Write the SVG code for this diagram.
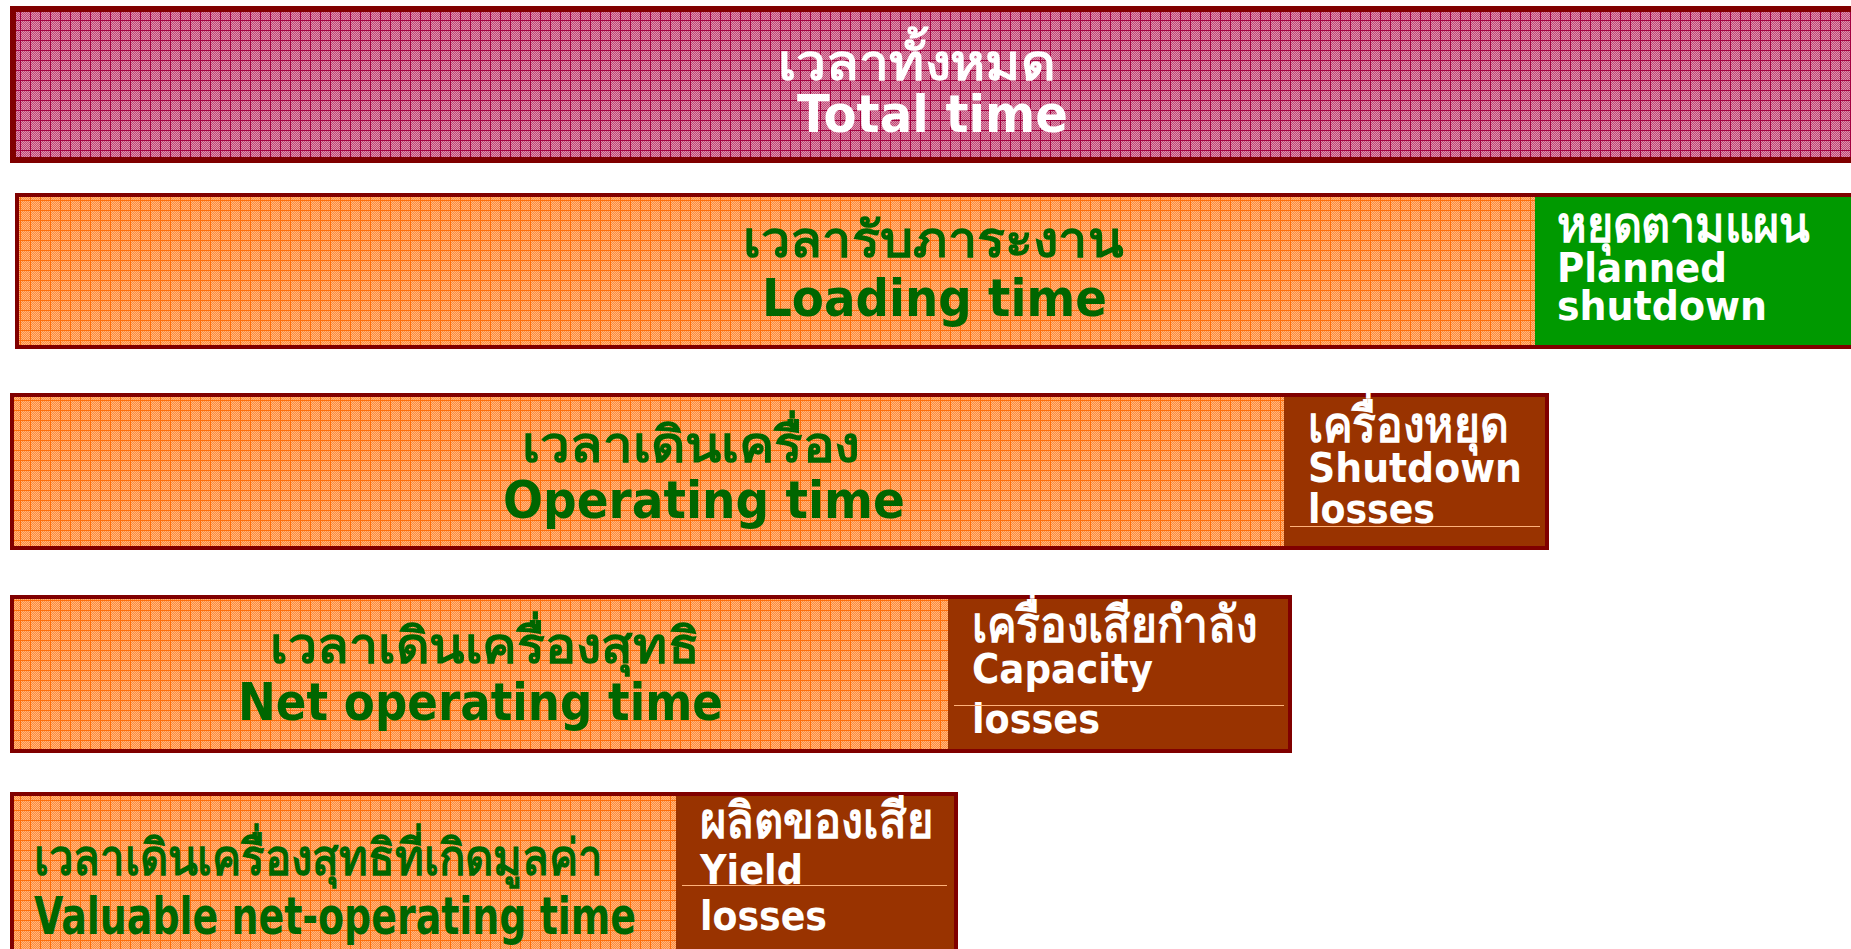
<svg xmlns="http://www.w3.org/2000/svg" width="1851" height="949" viewBox="0 0 1851 949">
<defs>
<pattern id="chkP" width="2" height="2" patternUnits="userSpaceOnUse"><rect width="2" height="2" fill="#C04A76"/><rect width="1" height="1" fill="#DE92B0"/><rect x="1" y="1" width="1" height="1" fill="#DE92B0"/></pattern>
<pattern id="gridP" width="10" height="10" patternUnits="userSpaceOnUse"><rect width="10" height="10" fill="url(#chkP)"/><rect width="10" height="1" fill="#A3003F"/><rect width="1" height="10" fill="#A3003F"/></pattern>
<pattern id="chkO" width="2" height="2" patternUnits="userSpaceOnUse"><rect width="2" height="2" fill="#FF8C3A"/><rect width="1" height="1" fill="#FFB680"/><rect x="1" y="1" width="1" height="1" fill="#FFB680"/></pattern>
<pattern id="gridO" width="10" height="10" patternUnits="userSpaceOnUse"><rect width="10" height="10" fill="url(#chkO)"/><rect width="10" height="1" fill="#FF6E0A"/><rect width="1" height="10" fill="#FF6E0A"/></pattern>
</defs>
<style>
.frame{stroke:#800000;}
.brown{fill:#993300;}
.t{font-family:"DejaVu Sans","Noto Sans",sans-serif;font-weight:bold;}
.g{fill:#006600;}
.w{fill:#FFFFFF;}
.big{font-size:52px;}
.th{font-size:50px;}
.sm{font-size:40px;}
.sep{stroke:#FFB27A;stroke-width:1;}
</style>
<rect width="1851" height="949" fill="#FFFFFF"/>

<g id="total">
<rect x="13" y="9" width="1850" height="151" fill="url(#gridP)" class="frame" stroke-width="6"/>
<text class="t w th" x="778" y="80" textLength="277" lengthAdjust="spacingAndGlyphs">เวลาทั้งหมด</text>
<text class="t w big" x="797" y="132" textLength="271" lengthAdjust="spacingAndGlyphs">Total time</text>
</g>

<g id="loading">
<rect x="17" y="195" width="1840" height="152" fill="url(#gridO)" class="frame" stroke-width="4"/>
<text class="t g th" x="743" y="257" textLength="380" lengthAdjust="spacingAndGlyphs">เวลารับภาระงาน</text>
<text class="t g big" x="762" y="316" textLength="345" lengthAdjust="spacingAndGlyphs">Loading time</text>
</g>

<g id="planned">
<rect x="1535" y="197" width="316" height="148" fill="#009900"/>
<text class="t w th" x="1557" y="242" textLength="253" lengthAdjust="spacingAndGlyphs">หยุดตามแผน</text>
<text class="t w sm" x="1557" y="282" textLength="170" lengthAdjust="spacingAndGlyphs">Planned</text>
<text class="t w sm" x="1557" y="320" textLength="210" lengthAdjust="spacingAndGlyphs">shutdown</text>
</g>

<g id="operating">
<rect x="12" y="395" width="1535" height="153" fill="url(#gridO)" class="frame" stroke-width="4"/>
<text class="t g th" x="522" y="462" textLength="338" lengthAdjust="spacingAndGlyphs">เวลาเดินเครื่อง</text>
<text class="t g big" x="503" y="518" textLength="402" lengthAdjust="spacingAndGlyphs">Operating time</text>
</g>

<g id="shutdown-losses">
<rect x="1284" y="397" width="261" height="149" class="brown"/>
<text class="t w th" x="1308" y="442" textLength="200" lengthAdjust="spacingAndGlyphs">เครื่องหยุด</text>
<text class="t w sm" x="1308" y="482" textLength="214" lengthAdjust="spacingAndGlyphs">Shutdown</text>
<text class="t w sm" x="1308" y="523" textLength="127" lengthAdjust="spacingAndGlyphs">losses</text>
<line x1="1290" y1="526.5" x2="1540" y2="526.5" class="sep"/>
</g>

<g id="net-operating">
<rect x="12" y="597" width="1278" height="154" fill="url(#gridO)" class="frame" stroke-width="4"/>
<text class="t g th" x="270" y="663" textLength="430" lengthAdjust="spacingAndGlyphs">เวลาเดินเครื่องสุทธิ</text>
<text class="t g big" x="238" y="720" textLength="485" lengthAdjust="spacingAndGlyphs">Net operating time</text>
</g>

<g id="capacity-losses">
<rect x="948" y="599" width="340" height="150" class="brown"/>
<text class="t w th" x="972" y="642" textLength="285" lengthAdjust="spacingAndGlyphs">เครื่องเสียกำลัง</text>
<text class="t w sm" x="972" y="683" textLength="181" lengthAdjust="spacingAndGlyphs">Capacity</text>
<text class="t w sm" x="972" y="733" textLength="128" lengthAdjust="spacingAndGlyphs">losses</text>
<line x1="954" y1="705.5" x2="1284" y2="705.5" class="sep"/>
</g>

<g id="valuable">
<rect x="12" y="794" width="944" height="170" fill="url(#gridO)" class="frame" stroke-width="4"/>
<text class="t g th" x="34" y="875" textLength="568" lengthAdjust="spacingAndGlyphs">เวลาเดินเครื่องสุทธิที่เกิดมูลค่า</text>
<text class="t g big" x="34" y="934" textLength="602" lengthAdjust="spacingAndGlyphs">Valuable net-operating time</text>
</g>

<g id="yield-losses">
<rect x="676" y="796" width="278" height="153" class="brown"/>
<text class="t w th" x="700" y="838" textLength="233" lengthAdjust="spacingAndGlyphs">ผลิตของเสีย</text>
<text class="t w sm" x="700" y="884" textLength="103" lengthAdjust="spacingAndGlyphs">Yield</text>
<text class="t w sm" x="700" y="930" textLength="127" lengthAdjust="spacingAndGlyphs">losses</text>
<line x1="682" y1="885.5" x2="947" y2="885.5" class="sep"/>
</g>

<g id="connectors"></g>
</svg>
